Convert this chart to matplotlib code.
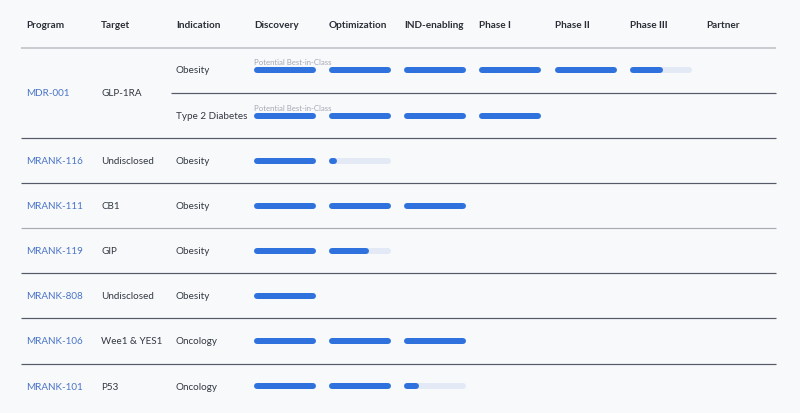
import matplotlib
matplotlib.use("Agg")
import matplotlib.pyplot as plt

# table content
headers = ["Program", "Target", "Indication", "Discovery", "Optimization",
           "IND-enabling", "Phase I", "Phase II", "Phase III", "Partner"]
programs = ["MDR-001", "MRANK-116", "MRANK-111", "MRANK-119",
            "MRANK-808", "MRANK-106", "MRANK-101"]
targets = ["GLP-1RA", "Undisclosed", "CB1", "GIP",
           "Undisclosed", "Wee1 & YES1", "P53"]
# one entry per indication line; index of the program it belongs to
indications = ["Obesity", "Type 2 Diabetes", "Obesity", "Obesity", "Obesity",
               "Obesity", "Oncology", "Oncology"]
ind_program = [0, 0, 1, 2, 3, 4, 5, 6]
# progress measured in stages (Discovery = 1 stage)
progress = [5.53, 4.0, 1.13, 3.0, 1.64, 1.0, 3.0, 2.24]
notes = ["Potential Best-in-Class", "Potential Best-in-Class",
         "", "", "", "", "", ""]

# layout (pixels)
W, H = 800, 414
col_x = [26, 101, 176, 254, 329, 404, 479, 555, 630, 706]
bar_w = 62
bar_px = 6
row_y = [70.5, 116.5, 161.5, 206.5, 251.5, 296.5, 341.5, 387.5]
sep_y = [93.5, 138.5, 183.5, 228.5, 273.5, 318.5, 364.5]
line_x0, line_x1 = 21, 776

bg = "#f8f9fb"
blue = "#2f72dd"
track = "#e3eaf6"
txt = "#333842"
link = "#4b75c8"

plt.rcParams["font.family"] = ["Lato", "DejaVu Sans"]

fig = plt.figure(figsize=(W / 100, H / 100), dpi=100, facecolor=bg)
ax = fig.add_axes([0, 0, 1, 1])
ax.set_facecolor(bg)
ax.set_xlim(0, W)
ax.set_ylim(H, 0)
ax.axis("off")

px = 72 / 100  # points per pixel

for x, h in zip(col_x, headers):
    ax.text(x, 26, h, fontsize=7.2, fontweight="bold", color="#2a2e36",
            va="center", ha="left")

ax.plot([line_x0, line_x1], [48.5, 48.5], color="#bfc1c8", lw=1.6 * px,
        solid_capstyle="butt")

# separators
for i, y in enumerate(sep_y):
    x0 = col_x[2] - 5 if i == 0 else line_x0
    c = "#a8abb3" if i == 3 else "#555a68"
    ax.plot([x0, line_x1], [y, y], color=c, lw=1.2 * px, solid_capstyle="butt")

# program / target columns
for p in range(len(programs)):
    ys = [row_y[k] for k in range(len(ind_program)) if ind_program[k] == p]
    yc = (ys[0] + ys[-1]) / 2
    ax.text(col_x[0], yc, programs[p], fontsize=7.1, color=link, va="center")
    ax.text(col_x[1], yc, targets[p], fontsize=7.1, color=txt, va="center")

# indications and bars
r = bar_px / 2
for k, y in enumerate(row_y):
    ax.text(col_x[2], y, indications[k], fontsize=7.1, color=txt, va="center")
    if notes[k]:
        ax.text(col_x[3], y - 8, notes[k], fontsize=5.6, color="#a3a7b3",
                va="center")
    val = progress[k]
    s = 0
    while s < val:
        x0 = col_x[3 + s]
        frac = min(1.0, val - s)
        if frac < 1.0:
            ax.plot([x0 + r, x0 + bar_w - r], [y, y], color=track,
                    lw=bar_px * px, solid_capstyle="round")
        ax.plot([x0 + r, x0 + max(bar_w * frac - r, r + 0.5)], [y, y],
                color=blue, lw=bar_px * px, solid_capstyle="round")
        s += 1

fig.savefig("out.png", dpi=100, facecolor=bg)
